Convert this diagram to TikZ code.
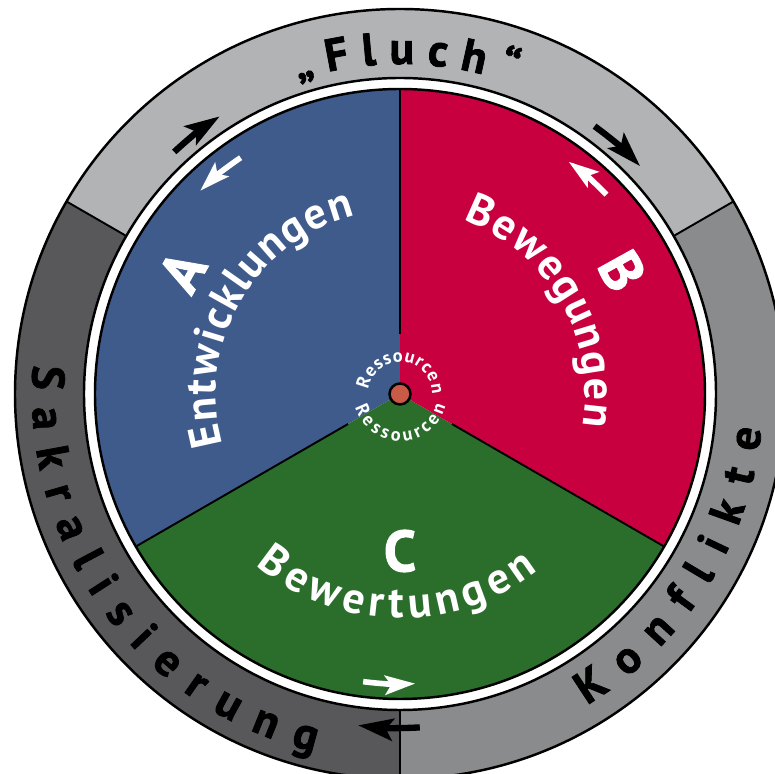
\documentclass[tikz,border=0pt]{standalone}
\usepackage{fontspec}
\setmainfont{PT Sans}
\newfontfamily\heavyface{PT Sans}[BoldFeatures={FakeBold=1.6}]
\usepackage{tikz}
\usetikzlibrary{arrows.meta,decorations.text}

\definecolor{segA}{HTML}{3F5B8C}
\definecolor{segB}{HTML}{C80040}
\definecolor{segC}{HTML}{2B6E2B}
\definecolor{ringtop}{HTML}{B1B3B5}
\definecolor{ringleft}{HTML}{58585A}
\definecolor{ringright}{HTML}{898B8D}
\definecolor{hubfill}{HTML}{C85A46}

\newcommand{\wordfont}{\fontsize{25}{28}\selectfont\bfseries}
\newcommand{\capfont}{\fontsize{33}{35}\selectfont\heavyface\bfseries}
\newcommand{\ringfont}{\fontsize{26}{28}\selectfont\heavyface\bfseries}
\newcommand{\resfont}{\fontsize{10.5}{12}\selectfont\bfseries}

\begin{document}
\begin{tikzpicture}[>={Stealth[length=6mm,width=3.8mm,inset=1.2mm]},
  seam/.style={draw=black,line width=1.1pt},
  rim/.style={draw=black,line width=1.4pt},
  outarrow/.style={-{Stealth[length=7mm,width=4.4mm,inset=1.4mm]},line width=3.6pt,draw=black},
  inarrow/.style={->,line width=3.2pt,draw=white},
  curved/.style={decorate,decoration={text along path,text align={fit to path},#1}}]
  % 设置节点样式
  \tikzstyle{capletter}=[text=white,font=\capfont,inner sep=0pt]
  \tikzstyle{hub}=[circle,fill=hubfill,draw=black,line width=1.4pt,minimum size=0.42cm,inner sep=0pt]

  \useasboundingbox (-8,-7.6) rectangle (7.5,7.88);
  \clip (-8,-7.6) rectangle (7.5,7.88);

  % 外环
  \foreach \s/\e/\c in {30/150/ringtop,150/270/ringleft,270/390/ringright}
    \fill[\c] (\s:6.32) arc[start angle=\s,end angle=\e,radius=6.32]
      -- (\e:7.7) arc[start angle=\e,end angle=\s,radius=7.7] -- cycle;
  \foreach \a in {30,150,270}
    \draw[seam] (\a:6.32) -- (\a:7.7);
  \draw[rim] (0,0) circle[radius=7.7];
  \draw[rim] (0,0) circle[radius=6.32];

  % 三个扇区
  \foreach \s/\e/\c in {90/210/segA,210/330/segC,-30/90/segB}
    \fill[\c] (0,0) -- (\s:6.1) arc[start angle=\s,end angle=\e,radius=6.1] -- cycle;
  \foreach \a in {90,210,330}
    \draw[seam] (\a:1.2) -- (\a:6.1);
  \draw[rim] (0,0) circle[radius=6.1];

  % 外环文字
  \path[curved={text={|\ringfont|„Fluch“}}]
    (108:6.6) arc[start angle=108,end angle=70,radius=6.6];
  \path[curved={text={|\ringfont|Sakralisierung}}]
    (175.5:7.36) arc[start angle=175.5,end angle=256.5,radius=7.36];
  \path[curved={text={|\ringfont|Konflikte}}]
    (301:7.26) arc[start angle=301,end angle=354.5,radius=7.26];

  % 扇区文字
  \path[curved={text color=white,text={|\wordfont|Entwicklungen}}]
    (196:3.68) arc[start angle=196,end angle=104,radius=3.68];
  \path[curved={text color=white,text={|\wordfont|Bewegungen}}]
    (70:3.7) arc[start angle=70,end angle=-10,radius=3.7];
  \path[curved={text color=white,text={|\wordfont|Bewertungen}}]
    (230:4.48) arc[start angle=230,end angle=308,radius=4.48];
  \node[capletter,rotate=60.6] (lblA) at (150.6:5.0) {A};
  \node[capletter,rotate=-61] (lblB) at (29:5.08) {B};
  \node[capletter] (lblC) at (270:3.14) {C};

  % 中心
  \path[curved={text color=white,text={|\resfont|Ressourcen}}]
    (172:0.64) arc[start angle=172,end angle=0,radius=0.64];
  \path[curved={text color=white,text={|\resfont|Ressourcen}}]
    (197:0.94) arc[start angle=197,end angle=345,radius=0.94];
  \node[hub] (hub) at (0,0) {};

  % 箭头
  \coordinate (fluchL) at (133:6.62);
  \coordinate (fluchR) at (54:6.62);
  \coordinate (ringS) at (273.4:6.68);
  \coordinate (innerA) at (124:5.7);
  \coordinate (innerB) at (44:5.74);
  \coordinate (innerC) at (262.7:5.8);
  \draw[outarrow] (fluchL) arc[start angle=133,end angle=123,radius=6.62];
  \draw[outarrow] (fluchR) arc[start angle=54,end angle=43.5,radius=6.62];
  \draw[outarrow] (ringS) arc[start angle=273.4,end angle=262.8,radius=6.68];
  \draw[inarrow] (innerA) arc[start angle=124,end angle=134.5,radius=5.7];
  \draw[inarrow] (innerB) arc[start angle=44,end angle=54,radius=5.74];
  \draw[inarrow] (innerC) arc[start angle=262.7,end angle=273,radius=5.8];
\end{tikzpicture}
\end{document}
